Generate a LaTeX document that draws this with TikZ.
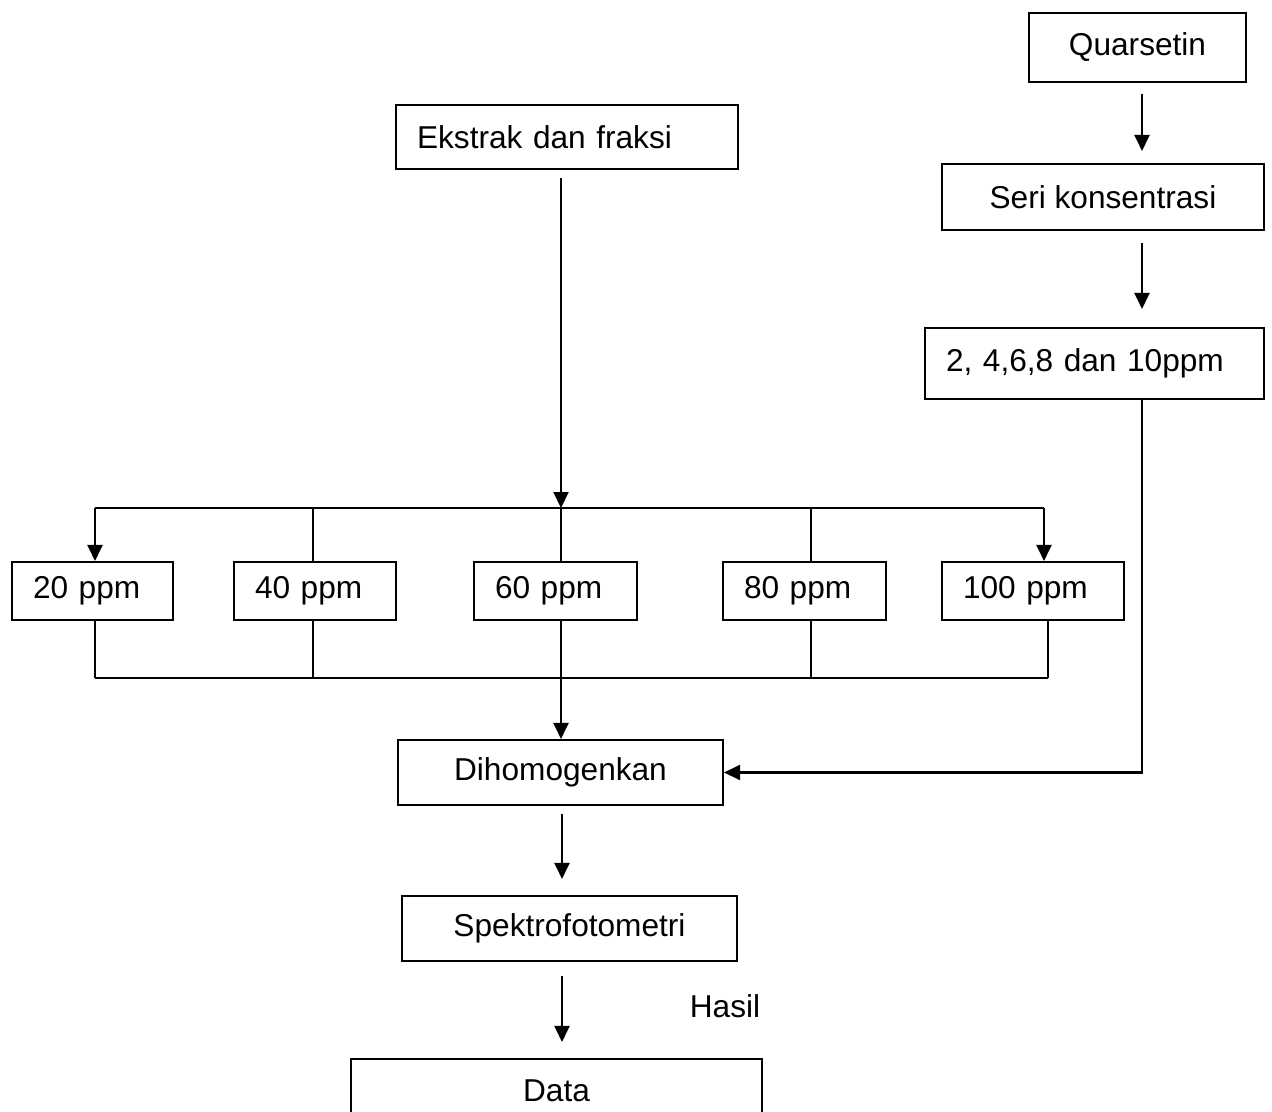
\documentclass[tikz,border=0pt]{standalone}
\usepackage{fontspec}
\setmainfont{Liberation Sans}
\usetikzlibrary{arrows.meta}
\tikzset{box/.style={draw, line width=1.2pt, inner sep=0pt},
cbox/.style 2 args={box, minimum width=#1, minimum height=#2},
%left aligned text in box
lbox/.style 2 args={box, inner xsep=0.42cm, text width=#1, minimum height=#2, align=left},
arr/.style={line width=1.2pt, -{Triangle[length=0.32cm,width=0.3cm]}},
link/.style={line width=1.2pt}}

\begin{document}
\begin{tikzpicture}[x=0.02cm, y=-0.02cm, font=\fontsize{18}{21.6}\selectfont]
\clip (0,0) rectangle (1272,1112);
% standard branch
\node[cbox={4.34cm}{1.38cm}] (quar) at (1137.5,47.5) {Quarsetin};
\node[cbox={6.44cm}{1.32cm}] (seri) at (1103,197) {Seri konsentrasi};
\node[lbox={5.94cm}{1.42cm}] (std) at (1094.5,363.5) {2, 4,6,8 dan 10ppm};
\coordinate (qx) at (1142,0);
\draw[arr, shorten <=0.22cm, shorten >=0.24cm] (quar.south -| qx) -- (seri.north -| qx);
\draw[arr, shorten <=0.24cm, shorten >=0.36cm] (seri.south -| qx) -- (std.north -| qx);

% sample branch
\node[lbox={6.0cm}{1.28cm}] (ekstrak) at (567,137) {Ekstrak dan fraksi};
\foreach \v/\cx/\w in {20/92.5/2.38, 40/315/2.4, 60/555.5/2.42, 80/804.5/2.42, 100/1033/2.8}
     \node[lbox={\w cm}{1.16cm}] (p\v) at (\cx,591) {\v{} ppm};

%bus lines
\foreach \x/\n in {95/20, 313/40, 561/60, 811/80, 1044/100}
     \coordinate (t\n) at (\x,508);
\foreach \x/\n in {95/20, 313/40, 561/60, 811/80, 1048/100}
     \coordinate (b\n) at (\x,678);
\draw[arr, shorten <=0.16cm] (ekstrak.south -| t60) -- (t60);
\draw[link] (t20) -- (t100);
\draw[arr] (t20) -- (t20 |- p20.north);
\draw[arr] (t100) -- (t100 |- p100.north);
\foreach \n in {40,60,80}
     \draw[link] (t\n) -- (t\n |- p\n.north);
\foreach \n in {20,40,60,80,100}
     \draw[link] (b\n |- p\n.south) -- (b\n);
\draw[link] (b20) -- (b100);

% measurement
\node[cbox={6.5cm}{1.3cm}] (dih) at (560.5,772.5) {Dihomogenkan};
\node[cbox={6.7cm}{1.3cm}] (spek) at (569.5,928.5) {Spektrofotometri};
\node[cbox={8.22cm}{1.28cm}] (data) at (556.5,1091) {Data};
\node (hasil) at (725,1006) {Hasil};
\draw[arr] (b60) -- (dih.north -| b60);
\draw[arr] (std.south -| qx) -- (qx |- dih.east) -- (dih.east);
\draw[arr, shorten <=0.16cm, shorten >=0.32cm] (dih.south -| 562,0) -- (spek.north -| 562,0);
\draw[arr, shorten <=0.28cm, shorten >=0.32cm] (spek.south -| 562,0) -- (data.north -| 562,0);
\end{tikzpicture}
\end{document}
